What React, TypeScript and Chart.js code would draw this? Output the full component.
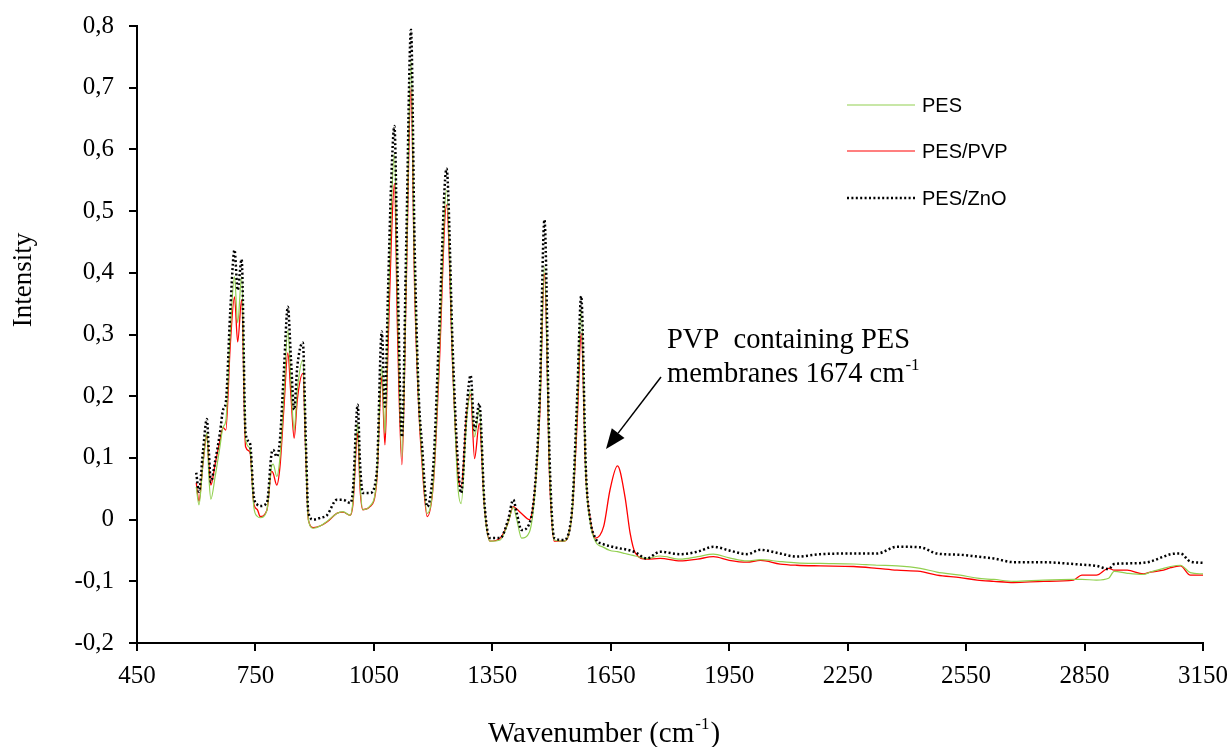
import React, { useEffect, useRef } from "react";
import { Chart, registerables } from "chart.js";

Chart.register(...registerables);

// Wavenumber (cm-1) sample positions
const wavenumbers = [
  600, 607, 617, 627, 632, 637, 648, 660, 668, 675,
  686, 697, 705, 715, 725, 736, 746, 755, 762, 779,
  791, 795, 804, 812, 822, 832, 840, 848, 856, 870,
  878, 884, 897, 915, 931, 956, 972, 990, 997, 1009,
  1015, 1022, 1040, 1057, 1070, 1078, 1085, 1094, 1102, 1110,
  1121, 1132, 1144, 1153, 1163, 1172, 1185, 1201, 1215, 1234,
  1250, 1262, 1271, 1285, 1295, 1305, 1317, 1330, 1344, 1370,
  1390, 1403, 1412, 1424, 1444, 1458, 1470, 1482, 1495, 1507,
  1530, 1551, 1565, 1575, 1587, 1598, 1611, 1632, 1648, 1667,
  1686, 1699, 1712, 1741, 1775, 1826, 1870, 1910, 1950, 1995,
  2029, 2079, 2121, 2181, 2265, 2324, 2375, 2434, 2476, 2535,
  2578, 2620, 2670, 2746, 2822, 2843, 2880, 2911, 2925, 2958,
  2999, 3017, 3050, 3068, 3093, 3118, 3150,
];

const pesZno = [
  0.076, 0.045, 0.110, 0.163, 0.110, 0.061, 0.095, 0.140, 0.178, 0.190,
  0.335, 0.437, 0.372, 0.422, 0.140, 0.124, 0.037, 0.024, 0.022, 0.027,
  0.108, 0.113, 0.102, 0.129, 0.240, 0.345, 0.260, 0.178, 0.248, 0.287,
  0.118, 0.011, 0.000, 0.003, 0.007, 0.032, 0.032, 0.027, 0.048, 0.186,
  0.090, 0.043, 0.043, 0.075, 0.305, 0.183, 0.350, 0.550, 0.638, 0.400,
  0.134, 0.450, 0.794, 0.450, 0.210, 0.120, 0.021, 0.092, 0.300, 0.569,
  0.270, 0.100, 0.043, 0.180, 0.234, 0.145, 0.188, 0.027, -0.030, -0.030,
  0.000, 0.032, 0.010, -0.017, -0.006, 0.053, 0.200, 0.486, 0.100, -0.030,
  -0.033, 0.010, 0.200, 0.362, 0.080, 0.000, -0.030, -0.040, -0.043, -0.046,
  -0.048, -0.050, -0.053, -0.063, -0.052, -0.056, -0.052, -0.044, -0.050, -0.056,
  -0.049, -0.055, -0.060, -0.056, -0.055, -0.055, -0.044, -0.045, -0.055, -0.057,
  -0.060, -0.063, -0.069, -0.069, -0.072, -0.073, -0.075, -0.080, -0.072, -0.071,
  -0.070, -0.068, -0.060, -0.056, -0.055, -0.068, -0.070,
];

const pes = [
  0.053, 0.024, 0.090, 0.140, 0.070, 0.033, 0.070, 0.118, 0.150, 0.160,
  0.300, 0.394, 0.319, 0.394, 0.130, 0.115, 0.020, 0.005, 0.003, 0.015,
  0.087, 0.090, 0.070, 0.100, 0.200, 0.307, 0.220, 0.145, 0.210, 0.259,
  0.100, 0.000, -0.014, -0.010, -0.003, 0.010, 0.013, 0.007, 0.030, 0.156,
  0.060, 0.016, 0.022, 0.065, 0.248, 0.140, 0.300, 0.500, 0.594, 0.350,
  0.102, 0.400, 0.745, 0.400, 0.200, 0.100, 0.010, 0.065, 0.260, 0.534,
  0.250, 0.060, 0.026, 0.160, 0.210, 0.134, 0.180, 0.020, -0.035, -0.033,
  -0.005, 0.020, 0.000, -0.030, -0.020, 0.045, 0.180, 0.410, 0.080, -0.033,
  -0.035, 0.005, 0.180, 0.340, 0.070, -0.005, -0.035, -0.045, -0.050, -0.052,
  -0.055, -0.057, -0.059, -0.063, -0.059, -0.064, -0.060, -0.056, -0.062, -0.067,
  -0.065, -0.068, -0.070, -0.071, -0.072, -0.074, -0.075, -0.079, -0.085, -0.090,
  -0.095, -0.097, -0.100, -0.098, -0.097, -0.097, -0.098, -0.095, -0.084, -0.087,
  -0.089, -0.085, -0.079, -0.076, -0.074, -0.086, -0.088,
];

const pesPvp = [
  0.060, 0.030, 0.090, 0.137, 0.090, 0.056, 0.090, 0.128, 0.149, 0.145,
  0.280, 0.361, 0.288, 0.356, 0.118, 0.110, 0.025, 0.016, 0.005, 0.015,
  0.078, 0.075, 0.056, 0.085, 0.180, 0.270, 0.200, 0.132, 0.194, 0.237,
  0.095, 0.000, -0.013, -0.010, -0.004, 0.010, 0.012, 0.007, 0.025, 0.140,
  0.050, 0.016, 0.021, 0.060, 0.232, 0.121, 0.260, 0.450, 0.545, 0.300,
  0.089, 0.380, 0.700, 0.380, 0.190, 0.090, 0.005, 0.061, 0.240, 0.510,
  0.240, 0.080, 0.053, 0.170, 0.202, 0.099, 0.156, 0.020, -0.035, -0.030,
  -0.005, 0.021, 0.017, 0.010, 0.000, 0.050, 0.170, 0.399, 0.070, -0.035,
  -0.035, 0.005, 0.160, 0.302, 0.070, 0.000, -0.030, -0.011, 0.048, 0.087,
  0.037, -0.022, -0.054, -0.064, -0.063, -0.067, -0.064, -0.060, -0.066, -0.069,
  -0.066, -0.072, -0.074, -0.075, -0.076, -0.079, -0.082, -0.084, -0.090, -0.094,
  -0.098, -0.100, -0.102, -0.100, -0.098, -0.090, -0.090, -0.079, -0.082, -0.082,
  -0.088, -0.085, -0.082, -0.078, -0.075, -0.090, -0.090,
];

const seriesLabels = ["PES", "PES/PVP", "PES/ZnO"];
const xTicks = [450, 750, 1050, 1350, 1650, 1950, 2250, 2550, 2850, 3150];

const GREEN = "#92D050";
const RED = "#FF0000";
const BLACK = "#000000";

const SERIF = '"Liberation Serif", "Times New Roman", serif';
const SANS = '"Liberation Sans", Arial, sans-serif';

const toPoints = (ys: number[]) => wavenumbers.map((x, i) => ({ x, y: ys[i] }));

const overlayPlugin = {
  id: "overlay",
  afterDraw(chart: any) {
    const ctx = chart.ctx as CanvasRenderingContext2D;
    ctx.save();

    // Legend
    const legend = [
      { label: seriesLabels[0], color: GREEN, width: 1.2, dash: [] as number[] },
      { label: seriesLabels[1], color: RED, width: 1.2, dash: [] as number[] },
      { label: seriesLabels[2], color: BLACK, width: 2.5, dash: [2, 2.4] },
    ];
    const rows = [105, 151, 198];
    legend.forEach((item, i) => {
      ctx.beginPath();
      ctx.setLineDash(item.dash);
      ctx.lineCap = "butt";
      ctx.strokeStyle = item.color;
      ctx.lineWidth = item.width;
      ctx.moveTo(847, rows[i]);
      ctx.lineTo(915, rows[i]);
      ctx.stroke();
      ctx.setLineDash([]);
      ctx.fillStyle = BLACK;
      ctx.font = `20px ${SANS}`;
      ctx.textAlign = "left";
      ctx.textBaseline = "middle";
      ctx.fillText(item.label, 922, rows[i] + 1);
    });

    // Annotation text
    ctx.fillStyle = BLACK;
    ctx.textBaseline = "alphabetic";
    ctx.textAlign = "left";
    ctx.font = `28.5px ${SERIF}`;
    ctx.fillText("PVP  containing PES", 667, 348);
    const l2 = "membranes 1674 cm";
    ctx.fillText(l2, 667, 382);
    const w2 = ctx.measureText(l2).width;
    ctx.font = `17px ${SERIF}`;
    ctx.fillText("-1", 667 + w2 + 1, 370);

    // Arrow
    const x0 = 661, y0 = 377, x1 = 606, y1 = 449;
    const ang = Math.atan2(y1 - y0, x1 - x0);
    const headLen = 20, headHalf = 8;
    const bx = x1 - headLen * Math.cos(ang);
    const by = y1 - headLen * Math.sin(ang);
    ctx.strokeStyle = BLACK;
    ctx.lineWidth = 1.5;
    ctx.beginPath();
    ctx.moveTo(x0, y0);
    ctx.lineTo(bx, by);
    ctx.stroke();
    ctx.beginPath();
    ctx.moveTo(x1, y1);
    ctx.lineTo(bx + headHalf * Math.sin(ang), by - headHalf * Math.cos(ang));
    ctx.lineTo(bx - headHalf * Math.sin(ang), by + headHalf * Math.cos(ang));
    ctx.closePath();
    ctx.fill();

    // X axis title
    ctx.font = `29px ${SERIF}`;
    const t1 = "Wavenumber (cm";
    ctx.fillText(t1, 488, 742);
    const tw = ctx.measureText(t1).width;
    ctx.font = `17px ${SERIF}`;
    ctx.fillText("-1", 488 + tw + 1, 729);
    const sw = ctx.measureText("-1").width;
    ctx.font = `29px ${SERIF}`;
    ctx.fillText(")", 488 + tw + sw + 2, 742);

    // Y axis title
    ctx.translate(24, 280);
    ctx.rotate(-Math.PI / 2);
    ctx.textAlign = "center";
    ctx.textBaseline = "middle";
    ctx.font = `27px ${SERIF}`;
    ctx.fillText("Intensity", 0, 0);

    ctx.restore();
  },
};

export default function App() {
  const canvasRef = useRef<HTMLCanvasElement | null>(null);

  useEffect(() => {
    if (!canvasRef.current) return;
    const chart = new Chart(canvasRef.current, {
      type: "line",
      data: {
        datasets: [
          {
            label: seriesLabels[2],
            data: toPoints(pesZno),
            borderColor: BLACK,
            borderWidth: 2.5,
            borderDash: [2, 2.4],
            borderCapStyle: "butt",
            pointRadius: 0,
            cubicInterpolationMode: "monotone",
            order: 0,
          },
          {
            label: seriesLabels[0],
            data: toPoints(pes),
            borderColor: GREEN,
            borderWidth: 1.2,
            pointRadius: 0,
            cubicInterpolationMode: "monotone",
            order: 1,
          },
          {
            label: seriesLabels[1],
            data: toPoints(pesPvp),
            borderColor: RED,
            borderWidth: 1.3,
            pointRadius: 0,
            cubicInterpolationMode: "monotone",
            order: 2,
          },
        ],
      },
      options: {
        responsive: false,
        animation: false,
        devicePixelRatio: 1,
        layout: { padding: { left: 0, right: 26, top: 26, bottom: 0 } },
        plugins: { legend: { display: false }, tooltip: { enabled: false } },
        scales: {
          x: {
            type: "linear",
            min: 450,
            max: 3150,
            afterBuildTicks: (scale: any) => {
              scale.ticks = xTicks.map((v) => ({ value: v }));
            },
            afterFit: (scale: any) => {
              scale.height = 104;
              scale.paddingLeft = 0;
              scale.paddingRight = 0;
            },
            grid: {
              display: true,
              drawOnChartArea: false,
              drawTicks: true,
              tickLength: 8,
              tickWidth: 2,
              color: BLACK,
              lineWidth: 2,
            },
            border: { display: true, color: BLACK, width: 2 },
            ticks: {
              color: BLACK,
              font: { family: SERIF, size: 25 },
              padding: 10,
              maxRotation: 0,
              autoSkip: false,
              callback: (v: any) => String(v),
            },
          },
          y: {
            type: "linear",
            min: -0.2,
            max: 0.8,
            afterFit: (scale: any) => {
              scale.width = 137;
              scale.paddingTop = 0;
              scale.paddingBottom = 0;
            },
            grid: {
              display: true,
              drawOnChartArea: false,
              drawTicks: true,
              tickLength: 8,
              tickWidth: 2,
              color: BLACK,
              lineWidth: 2,
            },
            border: { display: true, color: BLACK, width: 2 },
            ticks: {
              stepSize: 0.1,
              color: BLACK,
              font: { family: SERIF, size: 25 },
              padding: 15,
              callback: (v: any) => {
                const n = Number(v);
                if (Math.abs(n) < 1e-9) return "0";
                return n.toFixed(1).replace(".", ",");
              },
            },
          },
        },
      },
      plugins: [overlayPlugin],
    } as any);
    return () => chart.destroy();
  }, []);

  return (
    <div style={{ position: "absolute", left: 0, top: 0, width: 1229, height: 747, background: "#fff" }}>
      <canvas ref={canvasRef} width={1229} height={747} style={{ display: "block" }} />
    </div>
  );
}
